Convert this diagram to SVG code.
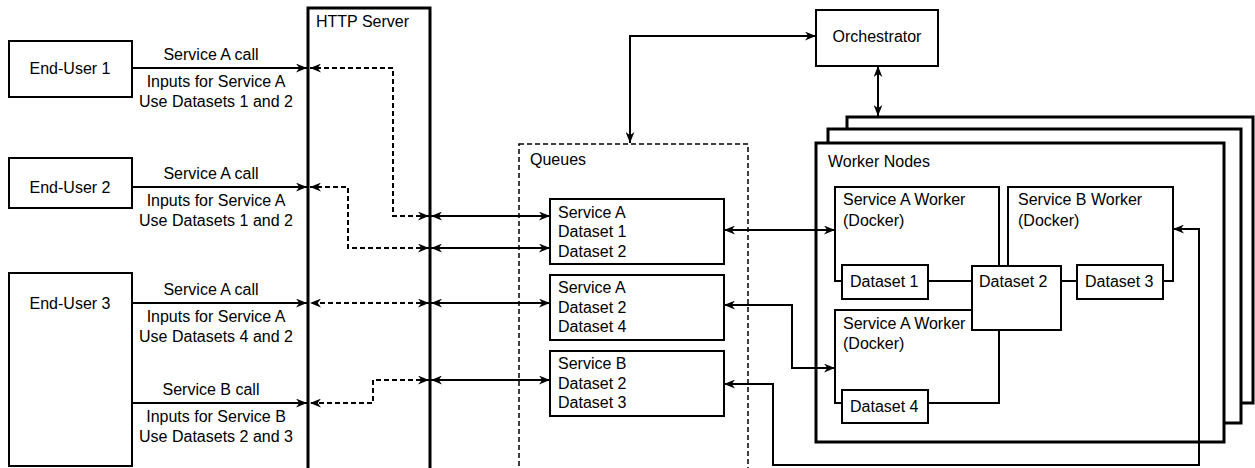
<svg xmlns="http://www.w3.org/2000/svg" width="1255" height="468" viewBox="0 0 1255 468">
<style>
text{font-family:"Liberation Sans",Arial,sans-serif;font-size:16px;fill:#000}
.box{fill:#fff;stroke:#000;stroke-width:2}
.thick{fill:#fff;stroke:#000;stroke-width:3}
.c{fill:none;stroke:#000;stroke-width:2}
.d{fill:none;stroke:#000;stroke-width:2;stroke-dasharray:5 3}
.m{text-anchor:middle}
</style>
<defs>
<marker id="ah" viewBox="0 0 10 8" refX="10" refY="4" markerWidth="11" markerHeight="9" markerUnits="userSpaceOnUse" orient="auto-start-reverse">
<path d="M0,0 L10,4 L0,8 L3,4 z" fill="#000"/>
</marker>
</defs>
<g id="http-server"><rect class="thick" x="308" y="8" width="122" height="470"/><text x="316" y="27">HTTP Server</text></g>
<g id="queues"><rect x="519" y="144" width="229" height="340" fill="#fff" stroke="#000" stroke-width="1.5" stroke-dasharray="5 3"/><text x="530" y="165">Queues</text></g>
<g id="worker-nodes">
<rect class="thick" x="847" y="117" width="406" height="286"/>
<rect class="thick" x="828" y="129" width="413" height="294"/>
<rect class="thick" x="816" y="143" width="408" height="299"/>
<text x="828" y="167">Worker Nodes</text>
</g>
<g id="end-user-1"><rect class="box" x="9" y="41" width="123" height="56"/><text class="m" x="70" y="74">End-User 1</text></g>
<g id="end-user-2"><rect class="box" x="9" y="158" width="123" height="50"/><text class="m" x="70" y="193">End-User 2</text></g>
<g id="end-user-3"><rect class="box" x="9" y="273" width="123" height="193"/><text class="m" x="70" y="309">End-User 3</text></g>
<g id="orchestrator"><rect class="box" x="816" y="10" width="122" height="56"/><text class="m" x="877" y="42">Orchestrator</text></g>
<g id="queue-1"><rect class="box" x="550" y="199" width="174" height="65"/><text x="558" y="218">Service A</text><text x="558" y="237">Dataset 1</text><text x="558" y="257">Dataset 2</text></g>
<g id="queue-2"><rect class="box" x="550" y="275" width="174" height="65"/><text x="558" y="293">Service A</text><text x="558" y="313">Dataset 2</text><text x="558" y="332">Dataset 4</text></g>
<g id="queue-3"><rect class="box" x="550" y="351" width="174" height="65"/><text x="558" y="369">Service B</text><text x="558" y="389">Dataset 2</text><text x="558" y="408">Dataset 3</text></g>
<g id="service-a-worker-1"><rect class="box" x="835" y="187" width="164" height="94"/><text x="843" y="205">Service A Worker</text><text x="843" y="226">(Docker)</text></g>
<g id="service-b-worker"><rect class="box" x="1008" y="187" width="165" height="94"/><text x="1018" y="205">Service B Worker</text><text x="1018" y="226">(Docker)</text></g>
<g id="service-a-worker-2"><rect class="box" x="835" y="310" width="164" height="93"/><text x="843" y="329">Service A Worker</text><text x="843" y="349">(Docker)</text></g>
<g id="dataset-1"><rect class="box" x="842" y="265" width="86" height="34"/><text x="850" y="287">Dataset 1</text></g>
<g id="dataset-2"><rect class="box" x="972" y="266" width="89" height="64"/><text x="979" y="287">Dataset 2</text></g>
<g id="dataset-3"><rect class="box" x="1077" y="265" width="86" height="34"/><text x="1085" y="287">Dataset 3</text></g>
<g id="dataset-4"><rect class="box" x="842" y="390" width="86" height="33"/><text x="850" y="412">Dataset 4</text></g>
<g id="connectors">
<path class="c" d="M132,68 H307" marker-end="url(#ah)"/>
<path class="c" d="M132,187 H307" marker-end="url(#ah)"/>
<path class="c" d="M132,303 H307" marker-end="url(#ah)"/>
<path class="c" d="M132,403 H307" marker-end="url(#ah)"/>
<path class="d" d="M429,216 H393 V68 H310" marker-start="url(#ah)" marker-end="url(#ah)"/>
<path class="d" d="M429,248 H348 V187 H310" marker-start="url(#ah)" marker-end="url(#ah)"/>
<path class="d" d="M429,303 H310" marker-start="url(#ah)" marker-end="url(#ah)"/>
<path class="d" d="M429,380 H373 V403 H310" marker-start="url(#ah)" marker-end="url(#ah)"/>
<path class="c" d="M431,216 H550" marker-start="url(#ah)" marker-end="url(#ah)"/>
<path class="c" d="M431,248 H550" marker-start="url(#ah)" marker-end="url(#ah)"/>
<path class="c" d="M431,303 H550" marker-start="url(#ah)" marker-end="url(#ah)"/>
<path class="c" d="M431,380 H550" marker-start="url(#ah)" marker-end="url(#ah)"/>
<path class="c" d="M724,230 H835" marker-start="url(#ah)" marker-end="url(#ah)"/>
<path class="c" d="M724,305 H792 V368 H835" marker-start="url(#ah)" marker-end="url(#ah)"/>
<path class="c" d="M724,384 H773 V465 H1199 V229 H1173" marker-start="url(#ah)" marker-end="url(#ah)"/>
<path class="c" d="M630,143 V36 H816" marker-start="url(#ah)" marker-end="url(#ah)"/>
<path class="c" d="M878,66 V116" marker-start="url(#ah)" marker-end="url(#ah)"/>
</g>
<text x="211" y="60" class="m">Service A call</text>
<text x="216" y="87" class="m">Inputs for Service A</text>
<text x="216" y="107" class="m">Use Datasets 1 and 2</text>
<text x="211" y="179" class="m">Service A call</text>
<text x="216" y="206" class="m">Inputs for Service A</text>
<text x="216" y="226" class="m">Use Datasets 1 and 2</text>
<text x="211" y="295" class="m">Service A call</text>
<text x="216" y="322" class="m">Inputs for Service A</text>
<text x="216" y="342" class="m">Use Datasets 4 and 2</text>
<text x="211" y="395" class="m">Service B call</text>
<text x="216" y="422" class="m">Inputs for Service B</text>
<text x="216" y="442" class="m">Use Datasets 2 and 3</text>
</svg>
